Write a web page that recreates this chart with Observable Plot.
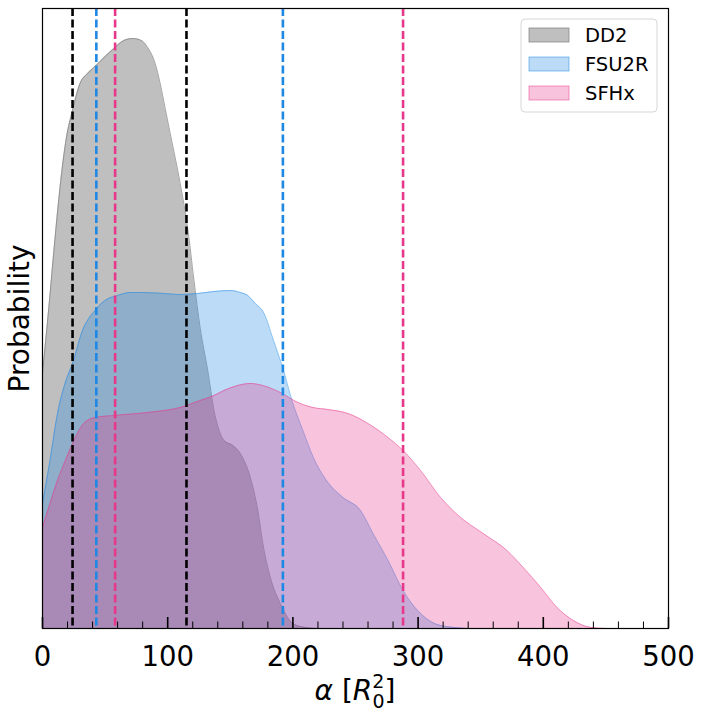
<!DOCTYPE html>
<html>
<head>
<meta charset="utf-8">
<script src="https://cdn.jsdelivr.net/npm/d3@7"></script>
<script src="https://cdn.jsdelivr.net/npm/@observablehq/plot@0.6"></script>
<style>
  html, body { margin: 0; padding: 0; background: #fff; }
  #chart { width: 706px; height: 722px; }
</style>
</head>
<body>
<div id="chart"></div>
<script>
// ---- data ----
const seriesNames = ["DD2", "FSU2R", "SFHx"];
const seriesColors = ["#808080", "#1E88E5", "#E8388A"];
const seriesOpacity = [0.5, 0.3, 0.3];

const dd2Alpha = [0, 5, 10, 14, 19, 24, 30, 36, 42, 50, 57, 65, 72, 79, 84, 90, 94, 98, 102, 110, 116, 121, 126, 132, 137, 142, 145, 152, 158, 166, 172, 176, 182, 190, 200, 210, 220];
const dd2Prob  = [2.55, 3.2, 3.9, 4.41, 4.9, 5.18, 5.45, 5.55, 5.62, 5.72, 5.8, 5.88, 5.9, 5.88, 5.81, 5.65, 5.45, 5.2, 4.95, 4.45, 4.0, 3.48, 3.0, 2.58, 2.18, 1.95, 1.88, 1.83, 1.75, 1.51, 1.18, 0.85, 0.51, 0.25, 0.05, 0.01, 0];

const fsuAlpha = [0, 6, 12, 18, 24, 32, 42, 50, 60, 70, 80, 97, 110, 124, 137, 150, 158, 164, 170, 177, 184, 192, 200, 208, 216, 228, 240, 254, 264, 276, 288, 302, 318, 340];
const fsuProb  = [1.25, 1.68, 2.15, 2.45, 2.65, 2.98, 3.18, 3.28, 3.33, 3.36, 3.36, 3.35, 3.34, 3.35, 3.37, 3.38, 3.36, 3.33, 3.25, 3.15, 2.9, 2.6, 2.25, 1.98, 1.72, 1.46, 1.31, 1.18, 0.95, 0.68, 0.38, 0.15, 0.03, 0];

const sfhAlpha = [0, 6, 12, 18, 24, 33, 42, 57, 84, 110, 126, 137, 145, 156, 166, 176, 190, 204, 216, 228, 244, 260, 276, 288, 302, 318, 334, 352, 371, 384, 398, 411, 424, 438, 450];
const sfhProb  = [1.01, 1.25, 1.48, 1.67, 1.85, 2.05, 2.11, 2.13, 2.16, 2.21, 2.28, 2.33, 2.38, 2.43, 2.45, 2.43, 2.36, 2.26, 2.21, 2.19, 2.15, 2.05, 1.91, 1.78, 1.58, 1.31, 1.11, 0.95, 0.78, 0.61, 0.41, 0.21, 0.08, 0.01, 0];

// credible-interval bounds (dashed lines)
const boundSeries = ["DD2", "DD2", "FSU2R", "FSU2R", "SFHx", "SFHx"];
const boundAlpha  = [24, 115, 43, 192, 58, 288];

const majorTicks = [0, 100, 200, 300, 400, 500];
const minorTicks = [20, 40, 60, 80, 120, 140, 160, 180, 220, 240, 260, 280, 320, 340, 360, 380, 420, 440, 460, 480];

// ---- build tables ----
const curves = [
  {name: "DD2", xs: dd2Alpha, ys: dd2Prob},
  {name: "FSU2R", xs: fsuAlpha, ys: fsuProb},
  {name: "SFHx", xs: sfhAlpha, ys: sfhProb}
];
const colorOf = Object.fromEntries(seriesNames.map((n, i) => [n, seriesColors[i]]));
const opacityOf = Object.fromEntries(seriesNames.map((n, i) => [n, seriesOpacity[i]]));
const bounds = boundAlpha.map((a, i) => ({alpha: a, series: boundSeries[i]}));
const dashColor = {DD2: "#000000", FSU2R: "#1E88E5", SFHx: "#E8388A"};

const W = 706, H = 722;
const M = {left: 42, right: 38, top: 8, bottom: 94};

const marks = [];
for (const c of curves) {
  const rows = c.xs.map((x, i) => ({alpha: x, p: c.ys[i]}));
  marks.push(Plot.areaY(rows, {x: "alpha", y: "p", curve: "monotone-x",
    fill: colorOf[c.name], fillOpacity: opacityOf[c.name]}));
  marks.push(Plot.lineY(rows, {x: "alpha", y: "p", curve: "monotone-x",
    stroke: colorOf[c.name], strokeOpacity: Math.min(1, opacityOf[c.name] + 0.2), strokeWidth: 1}));
}
marks.push(Plot.ruleX(bounds, {x: "alpha", stroke: d => dashColor[d.series],
  strokeWidth: 2.6, strokeDasharray: "8,3.5"}));
marks.push(Plot.frame({stroke: "#000", strokeWidth: 1.2}));
marks.push(Plot.axisX({ticks: majorTicks, tickSize: -11, tickFormat: () => "", label: null, strokeWidth: 1.6}));
marks.push(Plot.axisX({ticks: minorTicks, tickSize: -6.5, tickFormat: () => "", label: null, strokeWidth: 1}));
marks.push(Plot.axisX({ticks: majorTicks, tickSize: 0, tickPadding: 18, fontSize: 27.5, label: null, fill: "#000"}));
marks.push(Plot.axisY({ticks: [], label: "Probability", labelAnchor: "center", labelArrow: "none",
  labelOffset: 33, fontSize: 28, fill: "#000"}));

const chart = Plot.plot({
  width: W, height: H,
  marginLeft: M.left, marginRight: M.right, marginTop: M.top, marginBottom: M.bottom,
  style: {fontFamily: "DejaVu Sans", background: "#fff", color: "#000"},
  x: {domain: [0, 500]},
  y: {domain: [0, 6.2]},
  marks
});
document.getElementById("chart").appendChild(chart);

// ---- x axis label with stacked sub/superscript ----
const svg = d3.select(chart);
const xl = svg.append("text")
  .attr("x", M.left + (W - M.left - M.right) / 2)
  .attr("y", 700)
  .attr("text-anchor", "middle")
  .attr("font-family", "DejaVu Sans")
  .attr("font-size", 28)
  .attr("fill", "#000");
xl.append("tspan").attr("font-style", "italic").text("α");
xl.append("tspan").text(" [");
xl.append("tspan").attr("font-style", "italic").text("R");
xl.append("tspan").attr("font-size", 19).attr("dy", -12).text("2");
xl.append("tspan").attr("font-size", 19).attr("dx", -12).attr("dy", 20).text("0");
xl.append("tspan").attr("dy", -8).text("]");

// ---- legend ----
const lgW = 136, lgH = 93;
const lgX = W - M.right - 11 - lgW, lgY = M.top + 11;
const lg = svg.append("g").attr("transform", `translate(${lgX},${lgY})`);
lg.append("rect").attr("width", lgW).attr("height", lgH).attr("rx", 4)
  .attr("fill", "#fff").attr("fill-opacity", 0.8).attr("stroke", "#d6d6d6").attr("stroke-width", 1);
seriesNames.forEach((n, i) => {
  const cy = 16 + i * 29;
  lg.append("rect").attr("x", 8).attr("y", cy - 7).attr("width", 40).attr("height", 14)
    .attr("fill", seriesColors[i]).attr("fill-opacity", seriesOpacity[i])
    .attr("stroke", seriesColors[i]).attr("stroke-opacity", Math.min(1, seriesOpacity[i] + 0.2));
  lg.append("text").attr("x", 64).attr("y", cy).attr("dy", "0.35em")
    .attr("text-anchor", "start")
    .attr("font-family", "DejaVu Sans").attr("font-size", 19.5).attr("fill", "#000").text(n);
});
</script>
</body>
</html>
